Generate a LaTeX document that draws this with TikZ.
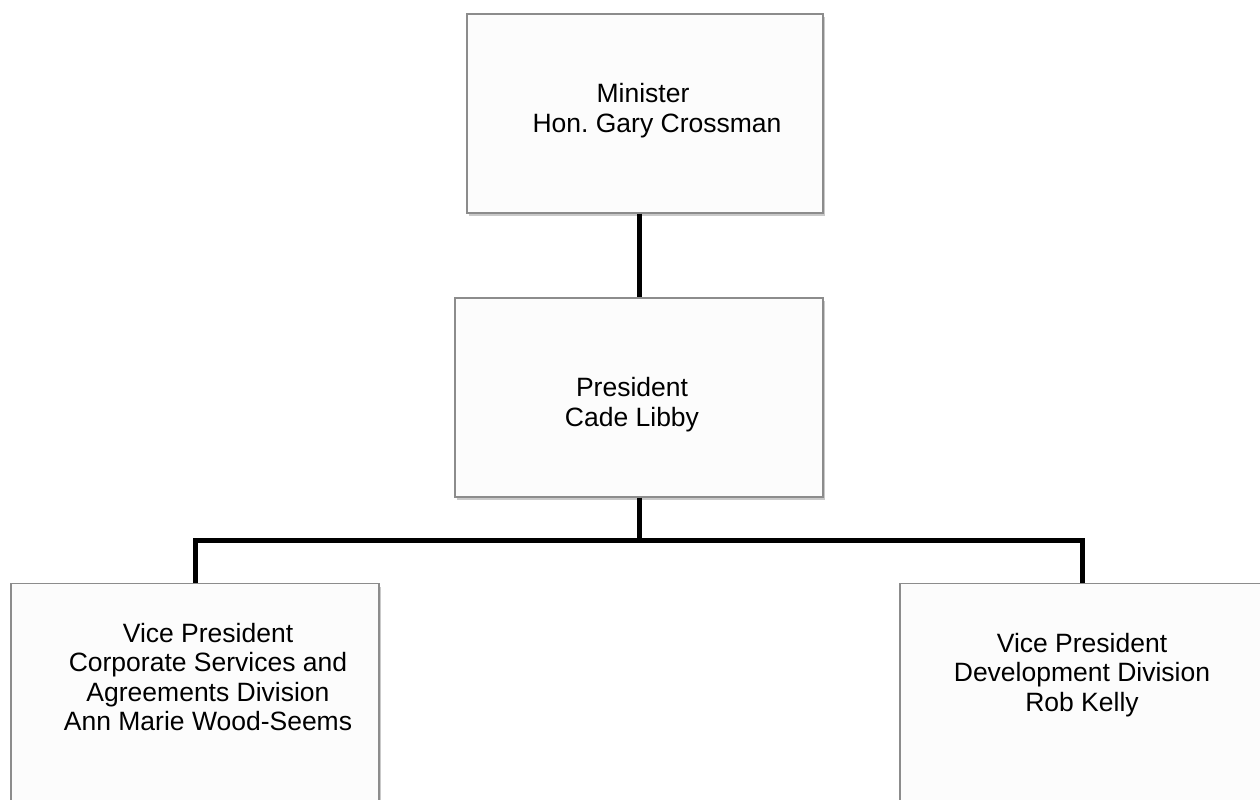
\documentclass[tikz,border=0pt]{standalone}
\usepackage{fontspec}
\setmainfont{Liberation Sans}
\frenchspacing
\usetikzlibrary{shadows}

\begin{document}
\begin{tikzpicture}[
  x=0.5pt,y=-0.5pt,
  box/.style={draw=black!45,line width=0.7pt,fill=black!1,minimum width=#1,minimum height=99.5pt,inner sep=0pt,
    drop shadow={shadow xshift=0.8pt,shadow yshift=-1.4pt,opacity=0.35,fill=black!60}},
  txt/.style={align=center,inner sep=0pt,font=\fontsize{13.25}{14.65}\selectfont},
  link/.style={line width=2.5pt}
]
  \fill[white] (0,0) rectangle (1260,799);
  \path[use as bounding box,clip] (0,0) rectangle (1260,799);

  % boxes
  \node[box=178pt] (minister) at (645,113.5) {};
  \node[box=184pt] (president) at (639,397.5) {};
  \node[box=184pt,minimum height=130pt,anchor=north] (vpCorp) at (195,583) {};
  \node[box=182pt,minimum height=130pt,anchor=north] (vpDev) at (1082,583) {};

  % texts
  \node[txt] (ministerText) at (643,110.5) {Minister\\\hspace*{14pt}Hon. Gary Crossman};
  \node[txt] (presidentText) at (632,404.5) {President\\Cade Libby};
  \node[txt] (vpCorpText) at (208,677) {Vice President\\Corporate Services and\\Agreements Division\\Ann Marie Wood-Seems};
  \node[txt] (vpDevText) at (1082,675) {Vice President\\Development Division\\Rob Kelly};

  % reporting lines
  \coordinate (bus) at (639,540);
  \draw[link] (minister.south -| president.north) -- (president.north);
  \draw[link] (president.south) -- (bus);
  \draw[link] (vpCorp.north) |- (bus) -| (vpDev.north);
\end{tikzpicture}
\end{document}
